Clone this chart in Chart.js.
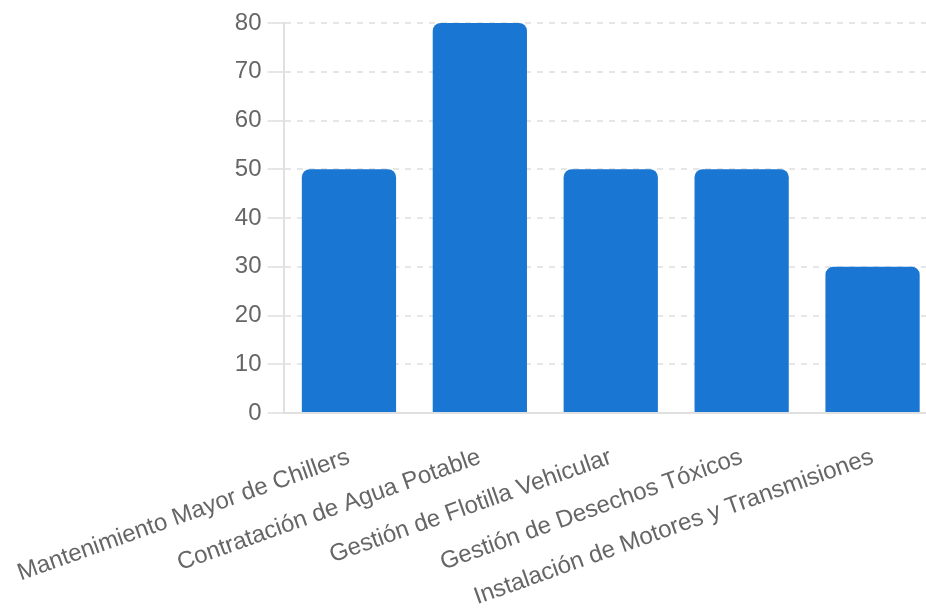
<!DOCTYPE html>
<html>
<head>
<meta charset="utf-8">
<script src="https://cdn.jsdelivr.net/npm/chart.js@4"></script>
<style>
  html, body { margin: 0; padding: 0; background: #fff; overflow: hidden; }
  #wrap { position: relative; width: 938px; height: 615px; }
</style>
</head>
<body>
<div id="wrap"><canvas id="c"></canvas></div>
<script>
const categories = [
  "Mantenimiento Mayor de Chillers",
  "Contratación de Agua Potable",
  "Gestión de Flotilla Vehicular",
  "Gestión de Desechos Tóxicos",
  "Instalación de Motores y Transmisiones"
];
const values = [50, 80, 50, 50, 30];
const yTicks = [0, 10, 20, 30, 40, 50, 60, 70, 80];

Chart.defaults.font.family = "'Liberation Sans', Arial, sans-serif";
Chart.defaults.font.size = 24;
Chart.defaults.color = "#666";

new Chart(document.getElementById("c"), {
  type: "bar",
  data: {
    labels: categories,
    datasets: [{
      data: values,
      backgroundColor: "#1976D2",
      borderRadius: 8,
      borderSkipped: "bottom"
    }]
  },
  options: {
    responsive: true,
    maintainAspectRatio: false,
    animation: false,
    layout: { padding: { top: 23 } },
    plugins: { legend: { display: false }, tooltip: { enabled: false } },
    scales: {
      x: {
        grid: { display: false },
        border: { color: "#e0e0e0", width: 2 },
        ticks: { minRotation: 19.6, maxRotation: 19.6, padding: 22 },
        afterFit: (axis) => { axis.height = 202; axis.paddingLeft = axis.paddingLeft - 10; }
      },
      y: {
        min: yTicks[0],
        max: yTicks[yTicks.length - 1],
        afterBuildTicks: (axis) => { axis.ticks = yTicks.map(v => ({ value: v })); },
        grid: { color: "#e6e6e6", lineWidth: 2, tickLength: 16 },
        border: { color: "#e0e0e0", width: 2, dash: [6, 6] },
        ticks: { padding: 6 }
      }
    }
  }
});
</script>
</body>
</html>
